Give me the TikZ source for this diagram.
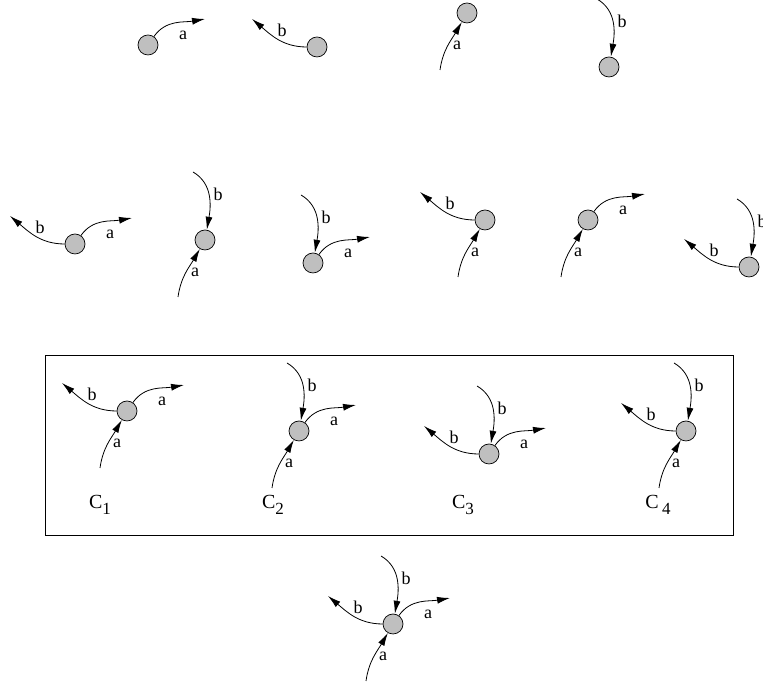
\documentclass[tikz,border=0pt]{standalone}
\usepackage{fontspec}
\setmainfont{Liberation Serif}
\usetikzlibrary{arrows.meta}

\begin{document}
\begin{tikzpicture}[x=1pt,y=1pt,
  vtx/.style = {shape=circle, draw, line width=0.7pt, fill=gray!50, minimum size=20pt, inner sep=0pt},
  edge/.style = {line width=0.8pt, -{Latex[length=13pt,width=7pt]}},
  lab/.style = {inner sep=0pt, font=\fontsize{18}{18}\selectfont},
  clab/.style = {inner sep=0pt, font=\fontsize{20}{20}\selectfont}]

  \useasboundingbox (0,0) rectangle (763,684);

  % the vertices
  \foreach \v/\x/\y in {v1/148/639, v2/317/637, v3/467/671, v4/609/617,
      p1/75/440, p2/205/444, p3/313/421, p4/485/464, p5/588/464, p6/749/417,
      c1/127/273, c2/299/253, c3/489/230, c4/686/253, d/393/60}
    \node[vtx] (\v) at (\x,\y) {};

  % outgoing a
  \foreach \v in {v1,p1,p3,p5,c1,c2,c3,d} {
    \coordinate (\v-ao) at ([shift={(57,26)}]\v.center);
    \draw[edge] (\v) to[out=55,in=190] (\v-ao);
    \node[lab] (\v-aol) at ([shift={(35,10)}]\v.center) {a};
  }
  % outgoing b
  \foreach \v in {v2,p1,p4,p6,c1,c3,c4,d} {
    \coordinate (\v-bo) at ([shift={(-65,28)}]\v.center);
    \draw[edge] (\v) to[out=180,in=-40] (\v-bo);
    \node[lab] (\v-bol) at ([shift={(-35,17)}]\v.center) {b};
  }
  % incoming a
  \foreach \v in {v3,p2,p4,p5,c1,c2,c4,d} {
    \coordinate (\v-ai) at ([shift={(-27,-57)}]\v.center);
    \draw[edge] (\v-ai) to[out=82,in=240] (\v);
    \node[lab] (\v-ail) at ([shift={(-10,-32)}]\v.center) {a};
  }
  % incoming b
  \foreach \v in {v4,p2,p3,p6,c2,c3,c4,d} {
    \coordinate (\v-bi) at ([shift={(-12,68)}]\v.center);
    \draw[edge] (\v-bi) to[out=-30,in=80] (\v);
    \node[lab] (\v-bil) at ([shift={(13,46)}]\v.center) {b};
  }

  % the four cases
  \coordinate (boxsw) at (45,149);
  \coordinate (boxne) at (733,329);
  \draw[line width=0.7pt] (boxsw) rectangle (boxne);
  \node[clab] (c1l) at (100,179) {C\raisebox{-0.6ex}{\fontsize{17}{17}\selectfont 1}};
  \node[clab] (c2l) at (273,179) {C\raisebox{-0.6ex}{\fontsize{17}{17}\selectfont 2}};
  \node[clab] (c3l) at (463,179) {C\raisebox{-0.6ex}{\fontsize{17}{17}\selectfont 3}};
  \node[clab] (c4l) at (658,179) {C\,\raisebox{-0.6ex}{\fontsize{17}{17}\selectfont 4}};
\end{tikzpicture}
\end{document}
